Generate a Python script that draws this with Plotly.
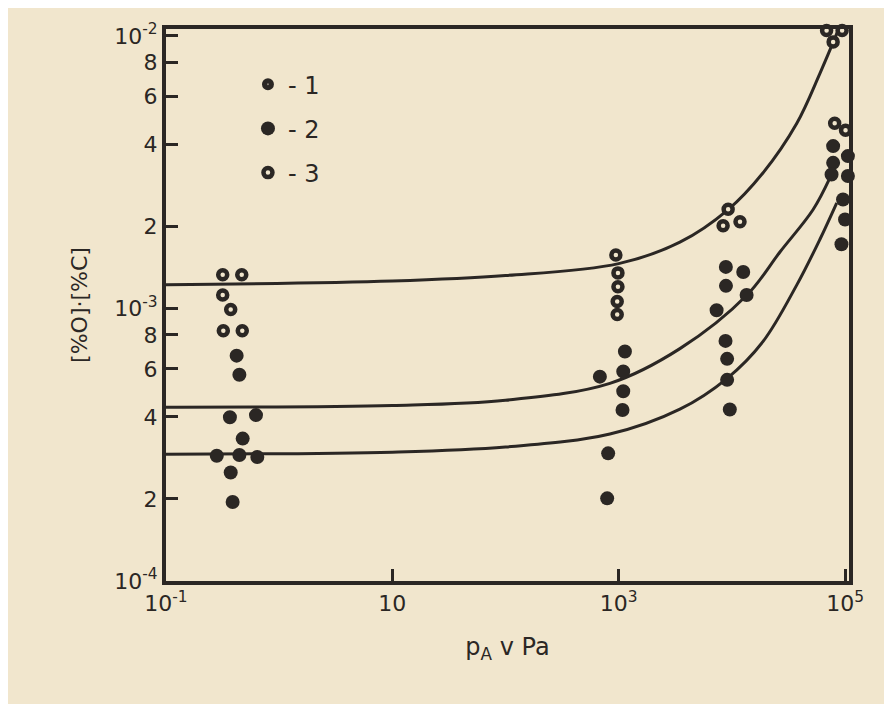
import plotly.graph_objects as go

# ---- data ----
# series 3 (open circles)
s3_x = [0.317, 0.467, 0.317, 0.373, 0.321, 0.472,
        944, 985, 985, 970, 970,
        9270, 8370, 11800,
        68700, 94200, 78500, 81000, 101000]
s3_y = [1.33e-3, 1.33e-3, 1.12e-3, 0.99e-3, 8.28e-4, 8.28e-4,
        1.57e-3, 1.35e-3, 1.20e-3, 1.06e-3, 9.5e-4,
        2.31e-3, 2.01e-3, 2.08e-3,
        1.045e-2, 1.045e-2, 9.5e-3, 4.78e-3, 4.5e-3]

# series 1 (dark dots with light centre)
s1_x = [0.421, 0.445, 0.367, 0.624,
        1135, 682, 1097, 1097,
        8850, 12600, 8870, 13500, 7330,
        78500, 78500, 106000, 76000, 106000]
s1_y = [6.71e-4, 5.71e-4, 3.99e-4, 4.06e-4,
        6.95e-4, 5.62e-4, 5.87e-4, 4.97e-4,
        1.42e-3, 1.36e-3, 1.21e-3, 1.12e-3, 9.85e-4,
        3.94e-3, 3.42e-3, 3.62e-3, 3.10e-3, 3.06e-3]

# series 2 (solid dark dots)
s2_x = [0.476, 0.281, 0.445, 0.641, 0.373, 0.388,
        1081, 807, 791,
        8790, 9080, 9080, 9590,
        96000, 100000, 93000]
s2_y = [3.33e-4, 2.88e-4, 2.90e-4, 2.85e-4, 2.50e-4, 1.95e-4,
        4.24e-4, 2.94e-4, 2.01e-4,
        7.60e-4, 6.53e-4, 5.47e-4, 4.26e-4,
        2.51e-3, 2.12e-3, 1.72e-3]

# fitted curves
c_top_x = [0.1, 10, 100, 1000, 3475, 9220, 18800, 37500, 59900, 86300]
c_top_y = [1.22e-3, 1.26e-3, 1.32e-3, 1.46e-3, 1.75e-3, 2.30e-3, 3.14e-3, 4.78e-3, 7.27e-3, 1.04e-2]

c_mid_x = [0.1, 10, 100, 836, 3475, 13600, 26600, 52100, 73500]
c_mid_y = [4.34e-4, 4.40e-4, 4.60e-4, 5.31e-4, 7.12e-4, 1.12e-3, 1.61e-3, 2.30e-3, 3.01e-3]

c_low_x = [0.1, 10, 100, 836, 3475, 9040, 18800, 37500, 59900, 84500]
c_low_y = [2.92e-4, 2.97e-4, 3.10e-4, 3.46e-4, 4.27e-4, 5.53e-4, 7.55e-4, 1.22e-3, 1.79e-3, 2.44e-3]

x_tickvals = [0.1, 10, 1e3, 1e5]
x_ticktext = ["10<sup>-1</sup>", "10", "10<sup>3</sup>", "10<sup>5</sup>"]
y_tickvals = [1e-2, 8e-3, 6e-3, 4e-3, 2e-3, 1e-3, 8e-4, 6e-4, 4e-4, 2e-4, 1e-4]
y_ticktext = ["10<sup>-2</sup>", "8", "6", "4", "2", "10<sup>-3</sup>", "8", "6", "4", "2", "10<sup>-4</sup>"]

legend_names = ["- 1", "- 2", "- 3"]

INK = "#2b2724"
PAPER = "#f1e6cd"
FONT = "DejaVu Sans"

fig = go.Figure()
for cx, cy in [(c_top_x, c_top_y), (c_mid_x, c_mid_y), (c_low_x, c_low_y)]:
    fig.add_trace(go.Scatter(x=cx, y=cy, mode="lines", line=dict(color=INK, width=3, shape="spline"),
                             showlegend=False, hoverinfo="skip", cliponaxis=False))

fig.add_trace(go.Scatter(x=s1_x, y=s1_y, mode="markers", name=legend_names[0], legendgroup="1",
                         marker=dict(symbol="circle", size=7, color="#8a827a", line=dict(color=INK, width=7)),
                         cliponaxis=False))
fig.add_trace(go.Scatter(x=s2_x, y=s2_y, mode="markers", name=legend_names[1], legendgroup="2",
                         marker=dict(symbol="circle", size=14, color=INK, line=dict(width=0)),
                         cliponaxis=False))
fig.add_trace(go.Scatter(x=s3_x, y=s3_y, mode="markers", name=legend_names[2], legendgroup="3",
                         marker=dict(symbol="circle", size=9, color=PAPER, line=dict(color=INK, width=4.5)),
                         cliponaxis=False))

fig.update_layout(
    width=884, height=696,
    margin=dict(l=158, r=43, t=17, b=123),
    paper_bgcolor=PAPER, plot_bgcolor=PAPER,
    font=dict(family=FONT, color=INK, size=22),
    showlegend=True,
    legend=dict(x=0.12, y=0.94, xanchor="left", yanchor="top", bgcolor="rgba(0,0,0,0)",
                font=dict(size=24, family=FONT, color=INK), tracegroupgap=10, itemsizing="trace"),
    xaxis=dict(type="log", range=[-1, 5.035], tickvals=x_tickvals, ticktext=x_ticktext,
               ticks="inside", ticklen=12, tickwidth=3, tickcolor=INK,
               showline=True, linewidth=4, linecolor=INK, mirror=True, showgrid=False, zeroline=False,
               tickfont=dict(size=22, family=FONT),
               title=dict(text="p<sub>A</sub> v Pa", font=dict(size=24, family=FONT), standoff=24)),
    yaxis=dict(type="log", range=[-4, -1.975], tickvals=y_tickvals, ticktext=y_ticktext,
               ticks="inside", ticklen=12, tickwidth=3, tickcolor=INK,
               showline=True, linewidth=4, linecolor=INK, mirror=True, showgrid=False, zeroline=False,
               tickfont=dict(size=22, family=FONT),
               title=dict(text="[%O]·[%C]", font=dict(size=22, family=FONT), standoff=22)),
)

fig.write_html("out.html")
